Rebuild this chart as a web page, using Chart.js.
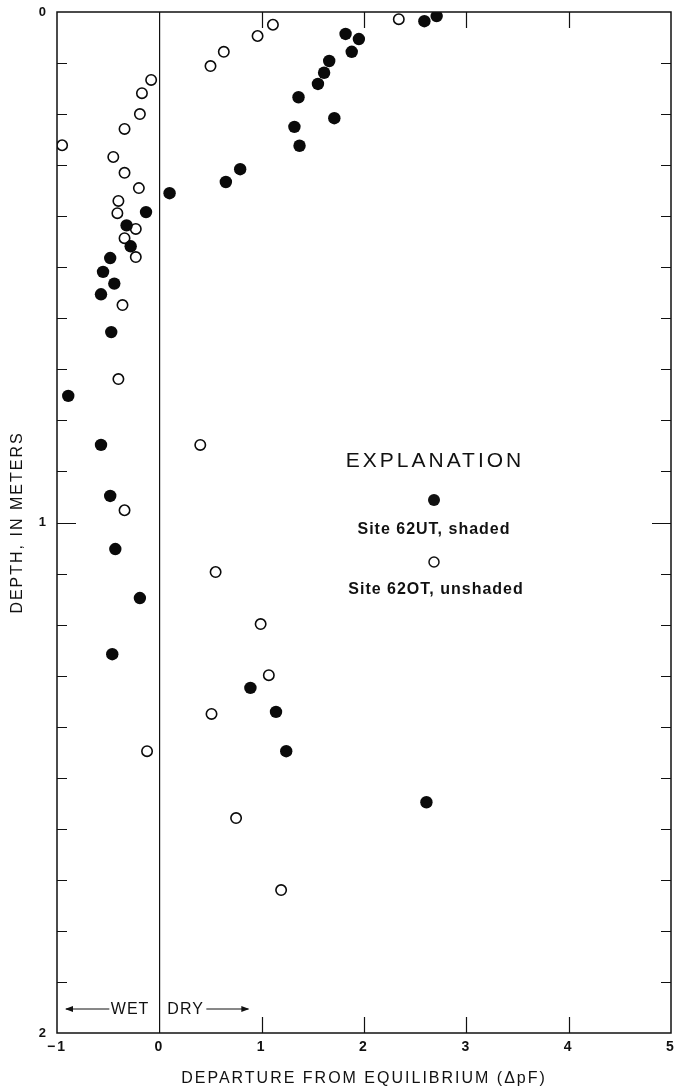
<!DOCTYPE html>
<html>
<head>
<meta charset="utf-8">
<script src="https://cdn.jsdelivr.net/npm/chart.js@4.4.1/dist/chart.umd.min.js"></script>
<style>
  html, body { margin: 0; padding: 0; background: #fff; }
  #wrap { width: 674px; height: 1090px; }
</style>
</head>
<body>
<div id="wrap"><canvas id="depthChart"></canvas></div>
<script>
// Site 62UT (shaded) - departure from equilibrium (delta pF) and depth (m)
const shadedDeparture = [2.71, 2.59, 1.82, 1.95, 1.88, 1.66, 1.61, 1.55, 1.36, 1.71, 1.32, 1.37,
  0.79, 0.65, 0.10, -0.13, -0.32, -0.28, -0.48, -0.55, -0.44, -0.57, -0.47, -0.89,
  -0.57, -0.48, -0.43, -0.19, -0.46, 0.89, 1.14, 1.24, 2.61];
const shadedDepth = [0.008, 0.018, 0.043, 0.053, 0.078, 0.096, 0.119, 0.141, 0.167, 0.208, 0.225, 0.262,
  0.308, 0.333, 0.355, 0.392, 0.418, 0.459, 0.482, 0.509, 0.532, 0.553, 0.627, 0.752,
  0.848, 0.948, 1.052, 1.148, 1.258, 1.324, 1.371, 1.448, 1.548];

// Site 62OT (unshaded)
const unshadedDeparture = [2.34, 1.11, 0.96, 0.63, 0.50, -0.08, -0.17, -0.19, -0.34, -0.95, -0.45, -0.34,
  -0.20, -0.40, -0.41, -0.23, -0.34, -0.23, -0.36, -0.40, 0.40, -0.34, 0.55, 0.99,
  1.07, 0.51, -0.12, 0.75, 1.19];
const unshadedDepth = [0.014, 0.025, 0.047, 0.078, 0.106, 0.133, 0.159, 0.200, 0.229, 0.261, 0.284, 0.315,
  0.345, 0.370, 0.394, 0.425, 0.443, 0.480, 0.574, 0.719, 0.848, 0.976, 1.097, 1.199,
  1.299, 1.375, 1.448, 1.579, 1.720];

const xMin = -1, xMax = 5;
const yMin = 0, yMax = 2;
const legendTitle = "EXPLANATION";
const shadedLabel = "Site 62UT, shaded";
const unshadedLabel = "Site 62OT, unshaded";

const FONT = '"Liberation Sans", Arial, Helvetica, sans-serif';
Chart.defaults.font.family = FONT;
Chart.defaults.color = "#111";

function toPoints(xs, ys) {
  return xs.map((x, i) => ({ x: x, y: ys[i] }));
}

// frame, inward ticks, WET/DRY note and the explanation box
const decorations = {
  id: "decorations",
  beforeDraw(chart) {
    chart.ctx.letterSpacing = "2px";
  },
  afterDraw(chart) {
    const ctx = chart.ctx;
    const a = chart.chartArea;
    const xs = chart.scales.x;
    const ys = chart.scales.y;
    ctx.save();
    ctx.letterSpacing = "0px";
    ctx.strokeStyle = "#111";
    ctx.lineWidth = 1.5;
    ctx.strokeRect(a.left, a.top, a.right - a.left, a.bottom - a.top);

    ctx.lineWidth = 1.2;
    ys.ticks.forEach(t => {
      const v = t.value;
      if (v <= yMin + 1e-6 || v >= yMax - 1e-6) return;
      const py = Math.round(ys.getPixelForValue(v)) + 0.5;
      const major = Math.abs(v - Math.round(v)) < 1e-6;
      const len = major ? 19 : 10;
      ctx.beginPath();
      ctx.moveTo(a.left, py); ctx.lineTo(a.left + len, py);
      ctx.moveTo(a.right, py); ctx.lineTo(a.right - len, py);
      ctx.stroke();
    });
    xs.ticks.forEach(t => {
      const v = t.value;
      if (v <= 0 || v >= xMax) return;
      const px = Math.round(xs.getPixelForValue(v)) + 0.5;
      ctx.beginPath();
      ctx.moveTo(px, a.top); ctx.lineTo(px, a.top + 16);
      ctx.moveTo(px, a.bottom); ctx.lineTo(px, a.bottom - 16);
      ctx.stroke();
    });

    // WET / DRY
    const zx = xs.getPixelForValue(0);
    const ny = a.bottom - 24;
    ctx.fillStyle = "#111";
    ctx.font = "16px " + FONT;
    ctx.textBaseline = "middle";
    ctx.letterSpacing = "1px";
    ctx.textAlign = "right";
    ctx.fillText("WET", zx - 10, ny + 1);
    ctx.textAlign = "left";
    ctx.fillText("DRY", zx + 8, ny + 1);
    ctx.lineWidth = 1;
    ctx.beginPath();
    ctx.moveTo(a.left + 9, ny); ctx.lineTo(zx - 50, ny);
    ctx.moveTo(zx + 47, ny); ctx.lineTo(zx + 89, ny);
    ctx.stroke();
    ctx.beginPath();
    ctx.moveTo(a.left + 8, ny); ctx.lineTo(a.left + 16, ny - 3); ctx.lineTo(a.left + 16, ny + 3); ctx.closePath();
    ctx.moveTo(zx + 90, ny); ctx.lineTo(zx + 82, ny - 3); ctx.lineTo(zx + 82, ny + 3); ctx.closePath();
    ctx.fill();

    // explanation
    const cx = 434;
    ctx.textAlign = "center";
    ctx.letterSpacing = "3px";
    ctx.font = "21px " + FONT;
    ctx.fillText(legendTitle, cx + 1, 461);
    ctx.letterSpacing = "1px";
    ctx.font = "bold 16px " + FONT;
    ctx.fillText(shadedLabel, cx, 530);
    ctx.fillText(unshadedLabel, cx + 2, 590);
    ctx.beginPath();
    ctx.arc(cx, 500, 6, 0, Math.PI * 2);
    ctx.fill();
    ctx.beginPath();
    ctx.arc(cx, 562, 5, 0, Math.PI * 2);
    ctx.fillStyle = "#fff";
    ctx.fill();
    ctx.lineWidth = 1.5;
    ctx.stroke();
    ctx.restore();
  }
};

new Chart(document.getElementById("depthChart"), {
  type: "scatter",
  data: {
    datasets: [
      {
        label: shadedLabel,
        data: toPoints(shadedDeparture, shadedDepth),
        pointStyle: "circle",
        pointRadius: 6.2,
        backgroundColor: "#0a0a0a",
        borderColor: "#0a0a0a",
        borderWidth: 0
      },
      {
        label: unshadedLabel,
        data: toPoints(unshadedDeparture, unshadedDepth),
        pointStyle: "circle",
        pointRadius: 5.2,
        backgroundColor: "#fff",
        borderColor: "#0a0a0a",
        borderWidth: 1.6
      }
    ]
  },
  options: {
    responsive: true,
    maintainAspectRatio: false,
    animation: false,
    layout: { autoPadding: false, padding: { top: 12, right: 3, left: 0, bottom: 0 } },
    plugins: {
      legend: { display: false },
      tooltip: { enabled: false }
    },
    scales: {
      x: {
        type: "linear",
        min: xMin,
        max: xMax,
        afterFit(scale) {
          scale.height = 57;
          scale.paddingLeft = 0;
          scale.paddingRight = 0;
        },
        border: { display: false },
        grid: {
          drawTicks: false,
          lineWidth: 1.2,
          color: c => (c.tick && c.tick.value === 0 ? "#111" : "rgba(0,0,0,0)")
        },
        ticks: {
          stepSize: 1,
          padding: 6,
          font: { size: 14, weight: "bold" },
          callback: v => (v < 0 ? "\u2212" + Math.abs(v) : String(v))
        },
        title: {
          display: true,
          text: "DEPARTURE FROM EQUILIBRIUM (\u0394pF)",
          font: { size: 16 },
          padding: { top: 0, bottom: 2 }
        }
      },
      y: {
        type: "linear",
        reverse: true,
        min: yMin,
        max: yMax,
        afterFit(scale) {
          scale.width = 57;
          scale.paddingTop = 0;
          scale.paddingBottom = 0;
        },
        border: { display: false },
        grid: { display: false, drawTicks: false },
        ticks: {
          stepSize: 0.1,
          autoSkip: false,
          padding: 9,
          font: { size: 13, weight: "bold" },
          callback: v => (Math.abs(v - Math.round(v)) < 1e-6 ? String(Math.round(v)) : "")
        },
        title: {
          display: true,
          text: "DEPTH, IN METERS",
          font: { size: 16 },
          padding: { top: 8, bottom: 0 }
        }
      }
    }
  },
  plugins: [decorations]
});
</script>
</body>
</html>
